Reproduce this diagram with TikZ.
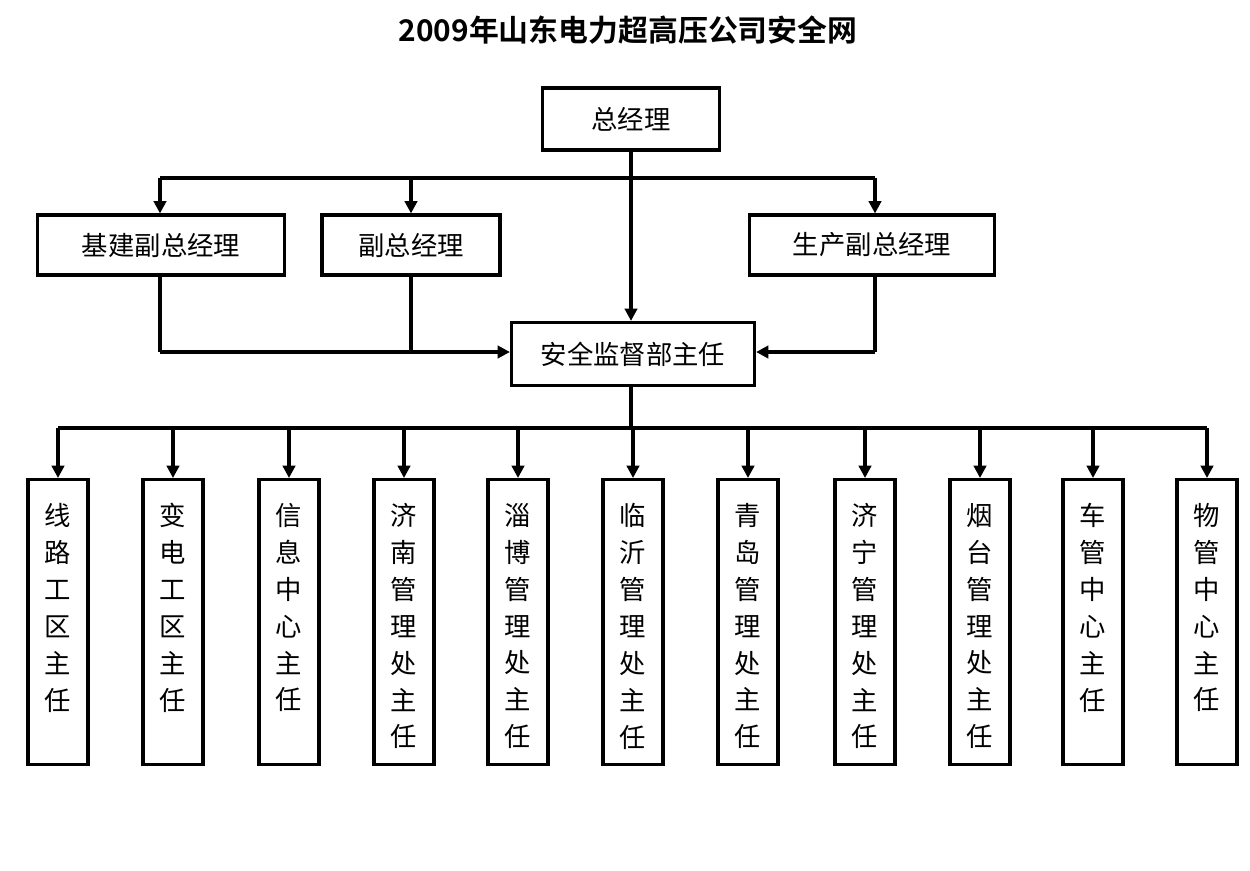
\documentclass[tikz,border=0pt]{standalone}
\usepackage{fontspec}
\setmainfont{Noto Sans CJK SC}
\newfontfamily\tfont{Noto Sans CJK SC}[BoldFont={* Bold}]
\usetikzlibrary{arrows.meta}
\begin{document}
\begin{tikzpicture}[x=0.02cm,y=-0.02cm,
  bx/.style={draw,line width=1.8pt,inner sep=0pt,font=\fontsize{15pt}{18pt}\selectfont},
  vb/.style={draw,line width=1.8pt,inner sep=0pt,minimum width=1.2cm,minimum height=5.7cm,anchor=north},
  vt/.style={inner sep=0pt,align=center,anchor=north,font=\fontsize{15pt}{21pt}\selectfont},
  ln/.style={line width=1.8pt},
  ar/.style={ln,-{Triangle[length=7pt,width=7pt]}}]
\useasboundingbox (0,0) rectangle (1250,870);
\node[font=\tfont\bfseries\fontsize{17pt}{20pt}\selectfont] (t) at (628,30) {2009年山东电力超高压公司安全网};
\node[bx,minimum width=3.54cm,minimum height=1.24cm] (gm) at (631,119) {总经理};
\node[bx,minimum width=4.94cm,minimum height=1.2cm] (jj) at (161,245) {基建副总经理};
\node[bx,minimum width=3.56cm,minimum height=1.2cm] (fz) at (411,245) {副总经理};
\node[bx,minimum width=4.9cm,minimum height=1.2cm] (sc) at (872,245) {生产副总经理};
\node[bx,minimum width=4.86cm,minimum height=1.26cm] (aq) at (633,354) {安全监督部主任};
\coordinate (h1) at (160,178);
\coordinate (h2) at (875,178);
\draw[ln] (gm.south) -- (gm.south |- h1);
\draw[ar] (gm.south) -- (gm.south |- aq.north);
\draw[ln] (h1) -- (h2);
\draw[ar] (h1) -- (h1 |- jj.north);
\draw[ar] (fz.north |- h1) -- (fz.north);
\draw[ar] (h2) -- (h2 |- sc.north);
\coordinate (m1) at (160,352);
\coordinate (m2) at (875,352);
\draw[ln] (jj.south -| m1) -- (m1);
\draw[ar] (m1) -- (aq.west |- m1);
\draw[ln] (fz.south) -- (fz.south |- m1);
\draw[ln] (sc.south -| m2) -- (m2);
\draw[ar] (m2) -- (aq.east |- m2);
\coordinate (b) at (631,428);
\draw[ln] (aq.south -| b) -- (b);
\draw[ln] (58,428) -- (1207,428);
\foreach \x/\t/\n in {58/线\\路\\工\\区\\主\\任/a,173/变\\电\\工\\区\\主\\任/b,289/信\\息\\中\\心\\主\\任/c,404/济\\南\\管\\理\\处\\主\\任/d,518/淄\\博\\管\\理\\处\\主\\任/e,633/临\\沂\\管\\理\\处\\主\\任/f,748/青\\岛\\管\\理\\处\\主\\任/g,865/济\\宁\\管\\理\\处\\主\\任/h,980/烟\\台\\管\\理\\处\\主\\任/i,1093/车\\管\\中\\心\\主\\任/j,1207/物\\管\\中\\心\\主\\任/k}{
  \node[vb] (n\n) at (\x,478) {};
  \node[vt] (l\n) at (\x,503) {\t};
  \draw[ar] (\x,428) -- (n\n.north);
}
\end{tikzpicture}
\end{document}
